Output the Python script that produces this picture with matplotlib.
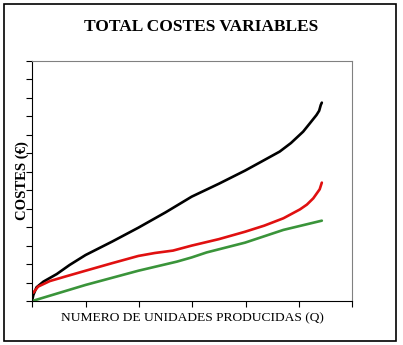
import numpy as np
import matplotlib.pyplot as plt
from matplotlib.patches import Rectangle

# Datos (Q en unidades de marca, costes en unidades de marca)
q_total = [0.0, 0.02, 0.08, 0.21, 0.46, 0.7, 1.0, 1.5, 1.99, 2.5, 2.99, 3.5, 3.99,
           4.3, 4.64, 4.85, 5.08, 5.2, 5.33, 5.38, 5.41, 5.43]
c_total = [0.05, 0.32, 0.74, 1.05, 1.46, 1.95, 2.49, 3.22, 3.97, 4.8, 5.65, 6.35, 7.06,
           7.55, 8.09, 8.55, 9.17, 9.6, 10.07, 10.3, 10.61, 10.74]

q_rojo = [0.02, 0.11, 0.33, 0.65, 1.0, 1.5, 1.99, 2.3, 2.64, 2.99, 3.5, 3.99, 4.35,
          4.71, 5.02, 5.15, 5.27, 5.39, 5.43]
c_rojo = [0.45, 0.78, 1.08, 1.35, 1.64, 2.05, 2.44, 2.6, 2.73, 3.0, 3.35, 3.75, 4.08,
          4.48, 4.96, 5.22, 5.56, 6.05, 6.41]

q_verde = [0.0, 1.0, 1.99, 2.71, 2.99, 3.27, 3.99, 4.71, 5.43]
c_verde = [0.0, 0.87, 1.64, 2.13, 2.36, 2.63, 3.16, 3.85, 4.35]

plt.rc('font', family='Liberation Serif')

fig = plt.figure(figsize=(4.03, 3.45), dpi=100)
ax = fig.add_axes([0.080, 0.1275, 0.794, 0.696])

ax.plot(q_total, c_total, color='black', lw=1.9, solid_capstyle='round')
ax.plot(q_rojo, c_rojo, color='#e01010', lw=1.9, solid_capstyle='round')
ax.plot(q_verde, c_verde, color='#3a943a', lw=1.9, solid_capstyle='round')

ax.set_xlim(0, 6)
ax.set_ylim(0, 13)
ax.set_xticks(np.arange(0, 7))
ax.set_yticks(np.arange(0, 14))
ax.tick_params(direction='out', length=4, width=0.8, labelbottom=False, labelleft=False)
ax.spines['top'].set_color('#808080')
ax.spines['right'].set_color('#808080')

ax.set_xlabel('NUMERO DE UNIDADES PRODUCIDAS (Q)', fontsize=9.7, labelpad=4)
ax.set_ylabel('COSTES (€)', fontsize=10.5, fontweight='bold', labelpad=-2)

fig.text(0.5, 0.921, 'TOTAL COSTES VARIABLES', ha='center', va='center',
         fontsize=12.5, fontweight='bold')

# Marco exterior
fig.patches.append(Rectangle((4/403, 4/345), 392/403, 337/345, transform=fig.transFigure,
                             fill=False, edgecolor='black', lw=1.2))

plt.savefig('out.png', dpi=100)
plt.close()
